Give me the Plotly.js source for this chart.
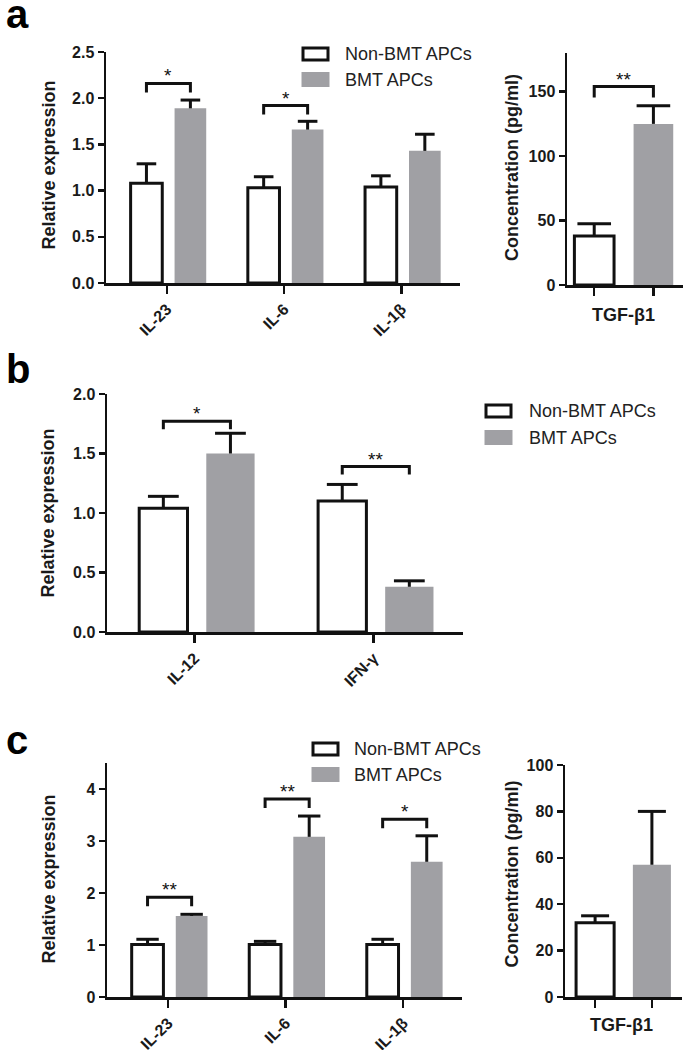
<!DOCTYPE html>
<html>
<head>
<meta charset="utf-8">
<script src="https://cdn.plot.ly/plotly-3.0.1.min.js"></script>
<style>html,body{margin:0;padding:0;background:#fff;}#chart{width:684px;height:1050px;}</style>
</head>
<body>
<div id="chart"></div>
<script>
// ---------- data ----------
const seriesNames = ['Non-BMT APCs', 'BMT APCs'];

const catsA = ['IL-23', 'IL-6', 'IL-1β'];
const aNon = [1.08, 1.03, 1.04];
const aNonErr = [0.21, 0.12, 0.12];
const aBmt = [1.89, 1.66, 1.43];
const aBmtErr = [0.09, 0.09, 0.18];
const aSig = ['*', '*', ''];
const aSigY = [2.16, 1.92, null];

const tgfLabel = 'TGF-β1';
const tgfA = [38, 125];
const tgfAErr = [9.5, 14];
const tgfASig = '**';
const tgfASigY = 154;

const catsB = ['IL-12', 'IFN-γ'];
const bNon = [1.04, 1.10];
const bNonErr = [0.10, 0.14];
const bBmt = [1.50, 0.38];
const bBmtErr = [0.17, 0.05];
const bSig = ['*', '**'];
const bSigY = [1.77, 1.39];

const catsC = ['IL-23', 'IL-6', 'IL-1β'];
const cNon = [1.01, 1.01, 1.01];
const cNonErr = [0.10, 0.06, 0.10];
const cBmt = [1.56, 3.08, 2.60];
const cBmtErr = [0.03, 0.40, 0.50];
const cSig = ['**', '**', '*'];
const cSigY = [1.92, 3.81, 3.42];

const tgfC = [32, 57];
const tgfCErr = [3, 23];

const yTitleRel = 'Relative expression';
const yTitleConc = 'Concentration (pg/ml)';

// ---------- styling ----------
const W = 684, H = 1050;
const FONT = 'Liberation Sans, Arial, Helvetica, sans-serif';
const BLACK = '#111111';
const GREY = '#a0a0a4';
const px = v => v / W;
const py = v => 1 - v / H;

const traces = [];
const shapes = [];
const annotations = [];

const OFF_NON = -0.31, OFF_BMT = 0.065, BW = 0.27;

function groupedPanel(cats, non, nonErr, bmt, bmtErr, sig, sigY, xa, ya, capW, legPx, axisPx, yRange) {
  const idx = cats.map((c, i) => i);
  const xref = xa === 'x' ? 'x' : xa;
  traces.push({type: 'bar', name: seriesNames[0], x: idx, y: non, offset: OFF_NON, width: BW,
    marker: {color: '#ffffff', line: {color: BLACK, width: 3}}, xaxis: xa, yaxis: ya, showlegend: false, hoverinfo: 'y'});
  traces.push({type: 'bar', name: seriesNames[1], x: idx, y: bmt, offset: OFF_BMT, width: BW,
    marker: {color: GREY, line: {width: 0}}, xaxis: xa, yaxis: ya, showlegend: false, hoverinfo: 'y'});
  // error bars (upper only), stem + cap
  [[non, nonErr, OFF_NON], [bmt, bmtErr, OFF_BMT]].forEach(([v, e, off]) => {
    traces.push({type: 'scatter', mode: 'markers', x: idx.map(i => i + off + BW / 2), y: v.map((val, i) => val + e[i]),
      marker: {symbol: 'line-ew', size: capW, color: BLACK, line: {color: BLACK, width: 3}},
      error_y: {type: 'data', symmetric: false, array: v.map(() => 0), arrayminus: e, color: BLACK, thickness: 3, width: 0},
      xaxis: xa, yaxis: ya, showlegend: false, hoverinfo: 'skip'});
  });
  const leg = legPx / axisPx * (yRange[1] - yRange[0]);
  sig.forEach((s, i) => {
    if (!s) return;
    const x0 = i + OFF_NON + BW / 2, x1 = i + OFF_BMT + BW / 2, y = sigY[i];
    shapes.push({type: 'path', xref: xref, yref: ya, path: `M${x0},${y - leg} L${x0},${y} L${x1},${y} L${x1},${y - leg}`,
      line: {color: BLACK, width: 3}});
    annotations.push({xref: xref, yref: ya, x: (x0 + x1) / 2, y: y, text: s, showarrow: false, yanchor: 'bottom', yshift: -5,
      font: {family: FONT, size: 19, color: BLACK}});
  });
}

function tgfPanel(vals, errs, sig, sigY, xa, ya, capW, legPx, axisPx, yRange) {
  const idx = vals.map((v, i) => i);
  traces.push({type: 'bar', name: tgfLabel, x: idx, y: vals, width: 0.67,
    marker: {color: ['#ffffff', GREY], line: {color: BLACK, width: [3, 0]}}, xaxis: xa, yaxis: ya, showlegend: false, hoverinfo: 'y'});
  traces.push({type: 'scatter', mode: 'markers', x: idx, y: vals.map((v, i) => v + errs[i]),
    marker: {symbol: 'line-ew', size: capW, color: BLACK, line: {color: BLACK, width: 3}},
    error_y: {type: 'data', symmetric: false, array: vals.map(() => 0), arrayminus: errs, color: BLACK, thickness: 3, width: 0},
    xaxis: xa, yaxis: ya, showlegend: false, hoverinfo: 'skip'});
  if (sig) {
    const leg = legPx / axisPx * (yRange[1] - yRange[0]);
    shapes.push({type: 'path', xref: xa, yref: ya, path: `M0,${sigY - leg} L0,${sigY} L1,${sigY} L1,${sigY - leg}`,
      line: {color: BLACK, width: 3}});
    annotations.push({xref: xa, yref: ya, x: 0.5, y: sigY, text: sig, showarrow: false, yanchor: 'bottom', yshift: -5,
      font: {family: FONT, size: 19, color: BLACK}});
  }
}

// geometry (pixels)
const G = {
  a:  {x: [106, 460], y: [52, 283], yr: [0, 2.5]},
  a2: {x: [567, 683], y: [53, 285], yr: [0, 180]},
  b:  {x: [107, 463], y: [394, 632], yr: [0, 2.0]},
  c:  {x: [107, 462], y: [763, 997], yr: [0, 4.5]},
  c2: {x: [565, 682], y: [765, 997], yr: [0, 100]}
};

groupedPanel(catsA, aNon, aNonErr, aBmt, aBmtErr, aSig, aSigY, 'x', 'y', 14, 9, G.a.y[1] - G.a.y[0], G.a.yr);
tgfPanel(tgfA, tgfAErr, tgfASig, tgfASigY, 'x2', 'y2', 24, 11, G.a2.y[1] - G.a2.y[0], G.a2.yr);
groupedPanel(catsB, bNon, bNonErr, bBmt, bBmtErr, bSig, bSigY, 'x3', 'y3', 22, 8, G.b.y[1] - G.b.y[0], G.b.yr);
groupedPanel(catsC, cNon, cNonErr, cBmt, cBmtErr, cSig, cSigY, 'x4', 'y4', 16, 9, G.c.y[1] - G.c.y[0], G.c.yr);
tgfPanel(tgfC, tgfCErr, '', null, 'x5', 'y5', 20, 11, G.c2.y[1] - G.c2.y[0], G.c2.yr);

const tickFont = {family: FONT, size: 16, color: '#1a1a1a', weight: 'bold'};
function xAxis(g, cats, range, anchor, isCat) {
  return {domain: [px(g.x[0]), px(g.x[1])], range: range, anchor: anchor, showline: true, linecolor: BLACK, linewidth: 2.5,
    ticks: 'outside', ticklen: 8, tickwidth: 2.5, tickcolor: BLACK, showgrid: false, zeroline: false,
    tickmode: 'array', tickvals: cats.map((c, i) => i), ticktext: isCat ? cats : cats.map(() => ''),
    tickangle: isCat ? -45 : 0, tickfont: tickFont, fixedrange: true};
}
function yAxis(g, anchor, extra) {
  return Object.assign({domain: [py(g.y[1]), py(g.y[0])], range: g.yr, anchor: anchor, showline: true, linecolor: BLACK, linewidth: 2.5,
    ticks: 'outside', ticklen: 6, tickwidth: 2.5, tickcolor: BLACK, showgrid: false, zeroline: false,
    tickfont: tickFont, fixedrange: true}, extra);
}

const layout = {
  width: W, height: H, margin: {l: 0, r: 0, t: 0, b: 0}, paper_bgcolor: '#ffffff', plot_bgcolor: 'rgba(0,0,0,0)',
  showlegend: false, barmode: 'overlay', font: {family: FONT, color: '#1a1a1a'},
  xaxis: xAxis(G.a, catsA, [-0.52, 2.5], 'y', true),
  yaxis: yAxis(G.a, 'x', {dtick: 0.5, tickformat: '.1f'}),
  xaxis2: xAxis(G.a2, [tgfLabel, tgfLabel], [-0.46, 1.5], 'y2', false),
  yaxis2: yAxis(G.a2, 'x2', {tickvals: [0, 50, 100, 150]}),
  xaxis3: xAxis(G.b, catsB, [-0.49, 1.5], 'y3', true),
  yaxis3: yAxis(G.b, 'x3', {dtick: 0.5, tickformat: '.1f'}),
  xaxis4: xAxis(G.c, catsC, [-0.52, 2.5], 'y4', true),
  yaxis4: yAxis(G.c, 'x4', {dtick: 1}),
  xaxis5: xAxis(G.c2, [tgfLabel, tgfLabel], [-0.53, 1.53], 'y5', false),
  yaxis5: yAxis(G.c2, 'x5', {dtick: 20}),
  shapes: shapes,
  annotations: annotations
};

// panel letters
[['a', 14], ['b', 369], ['c', 740]].forEach(([t, y]) => {
  annotations.push({xref: 'paper', yref: 'paper', x: px(4), y: py(y), xanchor: 'left', yanchor: 'middle', text: t, showarrow: false,
    font: {family: FONT, size: 40, color: '#000', weight: 'bold'}});
});
// y titles
[[yTitleRel, 48.5, 165], [yTitleConc, 512, 168], [yTitleRel, 47.5, 513], [yTitleRel, 48.5, 879], [yTitleConc, 511.5, 874]].forEach(([t, x, y]) => {
  annotations.push({xref: 'paper', yref: 'paper', x: px(x), y: py(y), xanchor: 'center', yanchor: 'middle', textangle: -90, text: t,
    showarrow: false, font: {family: FONT, size: 18, color: '#1a1a1a', weight: 'bold'}});
});
// TGF labels
[[623, 315], [621.5, 1025]].forEach(([x, y]) => {
  annotations.push({xref: 'paper', yref: 'paper', x: px(x), y: py(y), xanchor: 'center', yanchor: 'middle', text: tgfLabel,
    showarrow: false, font: {family: FONT, size: 18, color: '#1a1a1a', weight: 'bold'}});
});
// legends
[[303, 48, 73, 343], [486, 405, 431, 527], [313, 743, 768, 352]].forEach(([bx, wy, gy, tx]) => {
  shapes.push({type: 'rect', xref: 'paper', yref: 'paper', x0: px(bx), x1: px(bx + 25), y0: py(wy), y1: py(wy + 12),
    line: {color: BLACK, width: 3}, fillcolor: '#ffffff'});
  shapes.push({type: 'rect', xref: 'paper', yref: 'paper', x0: px(bx - 1.5), x1: px(bx + 26.5), y0: py(gy - 1), y1: py(gy + 14),
    line: {width: 0}, fillcolor: GREY});
  annotations.push({xref: 'paper', yref: 'paper', x: px(tx), y: py(wy + 6), xanchor: 'left', yanchor: 'middle', text: seriesNames[0],
    showarrow: false, font: {family: FONT, size: 18, color: '#222'}});
  annotations.push({xref: 'paper', yref: 'paper', x: px(tx), y: py(gy + 6.5), xanchor: 'left', yanchor: 'middle', text: seriesNames[1],
    showarrow: false, font: {family: FONT, size: 18, color: '#222'}});
});

Plotly.newPlot('chart', traces, layout, {displayModeBar: false, staticPlot: true});
</script>
</body>
</html>
